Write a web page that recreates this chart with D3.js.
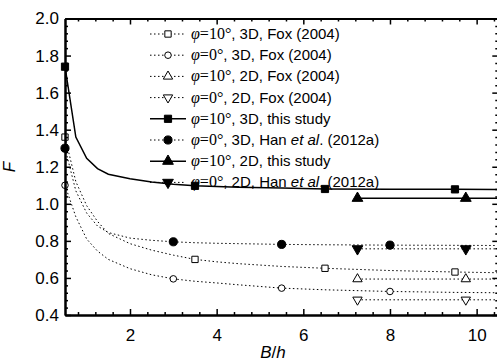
<!DOCTYPE html>
<html>
<head>
<meta charset="utf-8">
<script src="https://cdn.jsdelivr.net/npm/d3@7"></script>
<style>
  body { margin: 0; background: #fff; }
  text { font-family: "Liberation Sans", Arial, sans-serif; fill: #000; }
  .serif { font-family: "Liberation Serif", "Times New Roman", serif; }
</style>
</head>
<body>
<div id="chart"></div>
<script>
// B/h grid shared by the 3D curves
const bh3D = [0.5, 0.75, 1, 1.25, 1.5, 2, 2.5, 3, 3.5, 4, 4.5, 5.5, 6.5, 8, 9.5, 10.5];
const foxPhi10_3D = [1.36, 1.12, 0.99, 0.905, 0.84, 0.785, 0.75, 0.723, 0.70, 0.687, 0.677, 0.662, 0.652, 0.64, 0.632, 0.628];
const foxPhi0_3D = [1.10, 0.93, 0.81, 0.745, 0.70, 0.65, 0.617, 0.595, 0.582, 0.573, 0.563, 0.545, 0.536, 0.527, 0.522, 0.52];
const hanPhi0_3D = [1.30, 1.07, 0.95, 0.88, 0.845, 0.815, 0.803, 0.795, 0.79, 0.787, 0.785, 0.781, 0.779, 0.777, 0.776, 0.775];
const studyPhi10_3D = [1.74, 1.36, 1.245, 1.19, 1.16, 1.135, 1.118, 1.105, 1.097, 1.093, 1.09, 1.085, 1.08, 1.079, 1.078, 1.077];

// 2D results are only given for wide footings
const bh2D = [7.25, 9.75, 12.25];
const foxPhi10_2D = [0.594, 0.594, 0.594];
const foxPhi0_2D = [0.482, 0.482, 0.482];
const studyPhi10_2D = [1.03, 1.03, 1.03];
const hanPhi0_2D = [0.757, 0.757, 0.757];

// where the symbols sit along each curve
const marks3Dsq = [0.5, 3.5, 6.5, 9.5];
const marks3Dci = [0.5, 3, 5.5, 8];
const marks2D = [7.25, 9.75];

const xTicks = [2, 4, 6, 8, 10];
const yTicks = [0.4, 0.6, 0.8, 1.0, 1.2, 1.4, 1.6, 1.8, 2.0];

const series = [
  {phi: "10", label: "3D, Fox (2004)", x: bh3D, y: foxPhi10_3D, marks: marks3Dsq, sym: "square", fill: false, dotted: true},
  {phi: "0", label: "3D, Fox (2004)", x: bh3D, y: foxPhi0_3D, marks: marks3Dci, sym: "circle", fill: false, dotted: true},
  {phi: "10", label: "2D, Fox (2004)", x: bh2D, y: foxPhi10_2D, marks: marks2D, sym: "up", fill: false, dotted: true},
  {phi: "0", label: "2D, Fox (2004)", x: bh2D, y: foxPhi0_2D, marks: marks2D, sym: "down", fill: false, dotted: true},
  {phi: "10", label: "3D, this study", x: bh3D, y: studyPhi10_3D, marks: marks3Dsq, sym: "square", fill: true, dotted: false},
  {phi: "0", label: "3D, Han", han: true, x: bh3D, y: hanPhi0_3D, marks: marks3Dci, sym: "circle", fill: true, dotted: true},
  {phi: "10", label: "2D, this study", x: bh2D, y: studyPhi10_2D, marks: marks2D, sym: "up", fill: true, dotted: false},
  {phi: "0", label: "2D, Han", han: true, x: bh2D, y: hanPhi0_2D, marks: marks2D, sym: "down", fill: true, dotted: true}
];

const W = 497, H = 362;
const pLeft = 65, pRight = 498.3, pTop = 18.5, pBottom = 315;

const svg = d3.select("#chart").append("svg")
  .attr("width", W).attr("height", H);

const x = d3.scaleLinear().domain([0.5, 10.5]).range([pLeft, pRight]);
const y = d3.scaleLinear().domain([0.4, 2.0]).range([pBottom, pTop]);

svg.append("clipPath").attr("id", "plot")
  .append("rect").attr("x", pLeft).attr("y", pTop)
  .attr("width", pRight - pLeft).attr("height", pBottom - pTop);

function symbolPath(sym, filled) {
  if (sym === "square") return d3.symbol(d3.symbolSquare, filled ? 52 : 40)();
  if (sym === "circle") return d3.symbol(d3.symbolCircle, filled ? 52 : 34)();
  return d3.symbol(d3.symbolTriangle, filled ? 50 : 38)();
}

const line = d3.line().x(d => x(d[0])).y(d => y(d[1]));

const plot = svg.append("g").attr("clip-path", "url(#plot)");
series.forEach(s => {
  const pts = s.x.map((v, i) => [v, s.y[i]]);
  plot.append("path")
    .attr("d", line(pts))
    .attr("fill", "none")
    .attr("stroke", "#000")
    .attr("stroke-width", s.dotted ? 1 : 1.5)
    .attr("stroke-dasharray", s.dotted ? "1.5,2.5" : null);
});

series.forEach(s => {
  const pts = s.marks.map(m => [m, s.y[s.x.indexOf(m)]]);
  svg.append("g").selectAll("path")
    .data(pts)
    .join("path")
    .attr("d", symbolPath(s.sym, s.fill))
    .attr("transform", d => `translate(${x(d[0])},${y(d[1])})${s.sym === "down" ? " rotate(180)" : ""}`)
    .attr("fill", s.fill ? "#000" : "#fff")
    .attr("stroke", "#000")
    .attr("stroke-width", 1);
});

// axes with inward ticks
function minorValues(domain, start, step) {
  const out = [];
  for (let v = start; v <= domain[1] + 1e-9; v += step) {
    if (v >= domain[0] - 1e-9) out.push(+v.toFixed(4));
  }
  return out;
}
const xMinor = minorValues(x.domain(), 0.4, 0.4).filter(v => !xTicks.some(t => Math.abs(t - v) < 1e-6));
const yMinor = minorValues(y.domain(), 0.4, 0.04).filter(v => !yTicks.some(t => Math.abs(t - v) < 1e-6));

function styleAxis(g) {
  g.selectAll("path.domain").attr("stroke", "#000").attr("stroke-width", 2);
  g.selectAll(".tick line").attr("stroke", "#000").attr("stroke-width", 1.5);
  g.selectAll(".tick text").style("font-size", "17px").attr("fill", "#000")
    .style("font-family", "'Liberation Sans', Arial, sans-serif");
}

svg.append("g").attr("transform", `translate(0,${pBottom})`)
  .call(d3.axisBottom(x).tickValues(xMinor).tickSize(-3).tickFormat("").tickSizeOuter(0)).call(styleAxis);
svg.append("g").attr("transform", `translate(0,${pBottom})`)
  .call(d3.axisBottom(x).tickValues(xTicks).tickSize(-6).tickPadding(14).tickFormat(d3.format("d")).tickSizeOuter(0)).call(styleAxis);
svg.append("g").attr("transform", `translate(0,${pTop})`)
  .call(d3.axisTop(x).tickValues(xMinor).tickSize(-3).tickFormat("").tickSizeOuter(0)).call(styleAxis);
svg.append("g").attr("transform", `translate(0,${pTop})`)
  .call(d3.axisTop(x).tickValues(xTicks).tickSize(-6).tickFormat("").tickSizeOuter(0)).call(styleAxis);

svg.append("g").attr("transform", `translate(${pLeft},0)`)
  .call(d3.axisLeft(y).tickValues(yMinor).tickSize(-3).tickFormat("").tickSizeOuter(0)).call(styleAxis);
svg.append("g").attr("transform", `translate(${pLeft},0)`)
  .call(d3.axisLeft(y).tickValues(yTicks).tickSize(-6).tickPadding(6).tickFormat(d3.format(".1f")).tickSizeOuter(0)).call(styleAxis);
svg.append("g").attr("transform", `translate(${pRight},0)`)
  .call(d3.axisRight(y).tickValues(yMinor).tickSize(-3).tickFormat("").tickSizeOuter(0)).call(styleAxis);
svg.append("g").attr("transform", `translate(${pRight},0)`)
  .call(d3.axisRight(y).tickValues(yTicks).tickSize(-6).tickFormat("").tickSizeOuter(0)).call(styleAxis);

// axis titles
const xt = svg.append("text").attr("x", 273).attr("y", 358)
  .attr("text-anchor", "middle").style("font-size", "17px").style("font-style", "italic");
xt.append("tspan").text("B");
xt.append("tspan").style("font-style", "normal").text("/");
xt.append("tspan").text("h");

svg.append("text")
  .attr("transform", `translate(15,167) rotate(-90)`)
  .attr("text-anchor", "middle")
  .style("font-size", "17px").style("font-style", "italic")
  .text("F");

// legend
const legend = svg.append("g");
series.forEach((s, i) => {
  const ly = 34 + i * 21.2;
  const row = legend.append("g").attr("transform", `translate(0,${ly})`);
  row.append("line").attr("x1", 150).attr("x2", 186).attr("y1", 0).attr("y2", 0)
    .attr("stroke", "#000")
    .attr("stroke-width", s.dotted ? 1 : 1.5)
    .attr("stroke-dasharray", s.dotted ? "1.5,2.5" : null);
  row.append("path")
    .attr("d", symbolPath(s.sym, s.fill))
    .attr("transform", `translate(168,0)${s.sym === "down" ? " rotate(180)" : ""}`)
    .attr("fill", s.fill ? "#000" : "#fff")
    .attr("stroke", "#000");
  const t = row.append("text").attr("x", 191).attr("y", 5).style("font-size", "15px");
  t.append("tspan").attr("class", "serif").style("font-style", "italic").style("font-size", "16px").text("φ");
  t.append("tspan").attr("class", "serif").style("font-size", "16px").text(`=${s.phi}°`);
  if (s.han) {
    t.append("tspan").text(`, ${s.label} `);
    t.append("tspan").style("font-style", "italic").text("et al");
    t.append("tspan").text(". (2012a)");
  } else {
    t.append("tspan").text(`, ${s.label}`);
  }
});
</script>
</body>
</html>
